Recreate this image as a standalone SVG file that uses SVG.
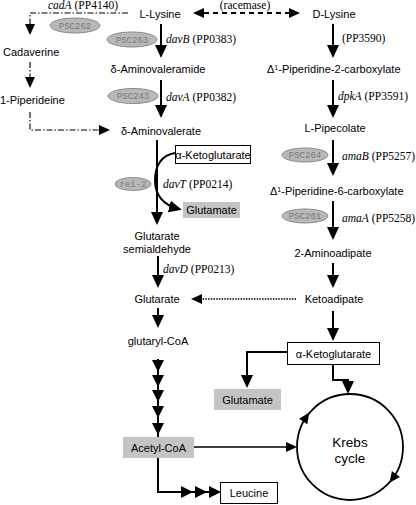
<svg xmlns="http://www.w3.org/2000/svg" xmlns:xlink="http://www.w3.org/1999/xlink" width="416" height="505" viewBox="0 0 416 505">
<style>
.l{font-family:"Liberation Sans",Arial,sans-serif;font-size:11px;fill:#000}
.k{font-family:"Liberation Sans",Arial,sans-serif;font-size:13.5px;fill:#000}
.g{font-family:"Liberation Serif","Times New Roman",serif;font-size:11.5px;fill:#000}
.gi{font-style:italic}
.psc{font-family:"Liberation Mono","Courier New",monospace;font-size:9px;fill:#7a7a7a}
.ell{fill:#b8b8b8;stroke:#8a8a8a;stroke-width:1}
.main{fill:none;stroke:#000;stroke-width:2}
.thin{fill:none;stroke:#000;stroke-width:1.6}
.dd{fill:none;stroke:#000;stroke-width:1.1;stroke-dasharray:6 2 1.5 2}
.dash{fill:none;stroke:#000;stroke-width:2;stroke-dasharray:5 4}
.dot{fill:none;stroke:#000;stroke-width:1.6;stroke-dasharray:1.5 1.2}
.box{fill:#fff;stroke:#000;stroke-width:1}
.gray{fill:#c4c4c4;stroke:none}
</style>
<defs>
<marker id="ah" markerUnits="userSpaceOnUse" markerWidth="13" markerHeight="12" viewBox="0 0 13 12" refX="10" refY="6" orient="auto"><path d="M0,0 L13,6 L0,12 z"/></marker>
<marker id="as" markerUnits="userSpaceOnUse" markerWidth="11" markerHeight="10" viewBox="0 0 11 10" refX="9" refY="5" orient="auto"><path d="M0,0 L11,5 L0,10 z"/></marker>
<marker id="ast" markerUnits="userSpaceOnUse" markerWidth="11" markerHeight="10" viewBox="0 0 11 10" refX="9" refY="5" orient="auto-start-reverse"><path d="M0,0 L11,5 L0,10 z"/></marker>
<path id="hd" d="M0,0 L-6,-12 L6,-12 z"/>
<path id="hr" d="M0,0 L-12,-6 L-12,6 z"/>
<path id="hc" d="M6,0 L-5,-5 L-5,5 z"/>
</defs>

<g id="connectors">
<path class="dash" d="M195,13 H298" marker-start="url(#ast)" marker-end="url(#ast)"/>
<path class="dd" d="M128,13 H30 V33" marker-end="url(#as)"/>
<path class="dd" d="M30,62 V86" marker-end="url(#as)"/>
<path class="dd" d="M30,112 V130 H108" marker-end="url(#as)"/>
<line class="main" x1="161" y1="24" x2="161" y2="55" marker-end="url(#ah)"/>
<line class="main" x1="161" y1="80" x2="161" y2="115" marker-end="url(#ah)"/>
<line class="main" x1="157" y1="140" x2="157" y2="222" marker-end="url(#ah)"/>
<path class="main" d="M175,153 C162,155 155,165 155,180 C155,195 163,205 179,209" marker-end="url(#ah)"/>
<line class="main" x1="158" y1="256" x2="158" y2="285" marker-end="url(#ah)"/>
<line class="main" x1="158" y1="308" x2="158" y2="325" marker-end="url(#ah)"/>
<line class="main" x1="158" y1="359" x2="158" y2="437"/>
<use xlink:href="#hd" x="158" y="372"/>
<use xlink:href="#hd" x="158" y="387"/>
<use xlink:href="#hd" x="158" y="402"/>
<use xlink:href="#hd" x="158" y="418"/>
<use xlink:href="#hd" x="158" y="435"/>
<path class="main" d="M158,458 V492 H219"/>
<use xlink:href="#hr" x="193" y="492"/>
<use xlink:href="#hr" x="207" y="492"/>
<use xlink:href="#hr" x="221" y="492"/>
<line class="main" x1="333" y1="24" x2="333" y2="55" marker-end="url(#ah)"/>
<line class="main" x1="333" y1="80" x2="333" y2="115" marker-end="url(#ah)"/>
<line class="main" x1="333" y1="140" x2="333" y2="173" marker-end="url(#ah)"/>
<line class="main" x1="333" y1="201" x2="333" y2="237" marker-end="url(#ah)"/>
<line class="main" x1="333" y1="263" x2="333" y2="285" marker-end="url(#ah)"/>
<line class="main" x1="333" y1="311" x2="333" y2="338" marker-end="url(#ah)"/>
<path class="dot" d="M296,299 H193" marker-end="url(#as)"/>
<path class="main" d="M287,352 H247 V385" marker-end="url(#ah)"/>
<path class="main" d="M333,364 V380 H348 V391" marker-end="url(#ah)"/>
<path class="thin" d="M194,447 H295" marker-end="url(#as)"/>
</g>

<g id="krebs">
<circle cx="350" cy="447" r="53" fill="none" stroke="#000" stroke-width="1.8"/>
<use xlink:href="#hc" transform="translate(306,417.4) rotate(304)"/>
<use xlink:href="#hc" transform="translate(393,478) rotate(126)"/>
<text class="k" x="350" y="447" text-anchor="middle">Krebs</text>
<text class="k" x="350" y="463" text-anchor="middle">cycle</text>
</g>

<g id="lysine"><text class="l" x="160" y="18" text-anchor="middle">L-Lysine</text></g>
<g id="dlysine"><text class="l" x="334" y="18" text-anchor="middle">D-Lysine</text></g>
<g id="racemase"><text class="g" x="245" y="9" text-anchor="middle" font-size="10">(racemase)</text></g>
<g id="cadA"><text class="g" x="48" y="9"><tspan class="gi">cadA</tspan> (PP4140)</text></g>
<g id="psc262"><ellipse class="ell" cx="75" cy="25.5" rx="25" ry="7.5"/><text class="psc" x="75" y="28.5" text-anchor="middle">PSC262</text></g>
<g id="cadaverine"><text class="l" x="3" y="56">Cadaverine</text></g>
<g id="piperideine"><text class="l" x="0" y="104">1-Piperideine</text></g>
<g id="psc263"><ellipse class="ell" cx="132" cy="39.5" rx="25" ry="7.5"/><text class="psc" x="132" y="42.5" text-anchor="middle">PSC263</text></g>
<g id="davB"><text class="g" x="166" y="43"><tspan class="gi">davB</tspan> (PP0383)</text></g>
<g id="aminovaleramide"><text class="l" x="158" y="73" text-anchor="middle">δ-Aminovaleramide</text></g>
<g id="psc243"><ellipse class="ell" cx="133" cy="96" rx="25" ry="7.5"/><text class="psc" x="133" y="99" text-anchor="middle">PSC243</text></g>
<g id="davA"><text class="g" x="166" y="101"><tspan class="gi">davA</tspan> (PP0382)</text></g>
<g id="aminovalerate"><text class="l" x="161" y="135" text-anchor="middle">δ-Aminovalerate</text></g>
<g id="akg1"><rect class="box" x="175.5" y="145.5" width="75" height="18"/><text class="l" x="213" y="158.5" text-anchor="middle" font-size="10.5">α-Ketoglutarate</text></g>
<g id="rei2"><ellipse class="ell" cx="133" cy="184" rx="18" ry="6.5"/><text class="psc" x="133" y="187" text-anchor="middle">rei-2</text></g>
<g id="davT"><text class="g" x="163" y="188"><tspan class="gi">davT</tspan> (PP0214)</text></g>
<g id="glutamate1"><rect class="gray" x="183" y="202" width="57" height="16"/><text class="l" x="211.5" y="214" text-anchor="middle">Glutamate</text></g>
<g id="gsa"><text class="l" x="157" y="240" text-anchor="middle">Glutarate</text><text class="l" x="157" y="253" text-anchor="middle">semialdehyde</text></g>
<g id="davD"><text class="g" x="163" y="273"><tspan class="gi">davD</tspan> (PP0213)</text></g>
<g id="glutarate"><text class="l" x="157" y="303" text-anchor="middle">Glutarate</text></g>
<g id="glutarylcoa"><text class="l" x="158" y="345" text-anchor="middle">glutaryl-CoA</text></g>
<g id="acetylcoa"><rect class="gray" x="123" y="437" width="71" height="21"/><text class="l" x="158.5" y="451.5" text-anchor="middle">Acetyl-CoA</text></g>
<g id="leucine"><rect class="box" x="220.5" y="482.5" width="57" height="21"/><text class="l" x="249" y="497" text-anchor="middle">Leucine</text></g>
<g id="pp3590"><text class="g" x="342" y="42">(PP3590)</text></g>
<g id="p2c"><text class="l" x="267" y="73">Δ<tspan font-size="7" dy="-3">1</tspan><tspan dy="3">-Piperidine-2-carboxylate</tspan></text></g>
<g id="dpkA"><text class="g" x="338" y="100"><tspan class="gi">dpkA</tspan> (PP3591)</text></g>
<g id="pipecolate"><text class="l" x="335" y="132" text-anchor="middle">L-Pipecolate</text></g>
<g id="psc264"><ellipse class="ell" cx="305" cy="155" rx="23" ry="7"/><text class="psc" x="305" y="158" text-anchor="middle">PSC264</text></g>
<g id="amaB"><text class="g" x="342" y="160"><tspan class="gi">amaB</tspan> (PP5257)</text></g>
<g id="p6c"><text class="l" x="270" y="195">Δ<tspan font-size="7" dy="-3">1</tspan><tspan dy="3">-Piperidine-6-carboxylate</tspan></text></g>
<g id="psc261"><ellipse class="ell" cx="305" cy="216" rx="23" ry="7"/><text class="psc" x="305" y="219" text-anchor="middle">PSC261</text></g>
<g id="amaA"><text class="g" x="342" y="222"><tspan class="gi">amaA</tspan> (PP5258)</text></g>
<g id="aminoadipate"><text class="l" x="333" y="257" text-anchor="middle">2-Aminoadipate</text></g>
<g id="ketoadipate"><text class="l" x="334" y="303" text-anchor="middle">Ketoadipate</text></g>
<g id="akg2"><rect class="box" x="287.5" y="342.5" width="92" height="22"/><text class="l" x="333.5" y="357.5" text-anchor="middle">α-Ketoglutarate</text></g>
<g id="glutamate2"><rect class="gray" x="214" y="389" width="67" height="21"/><text class="l" x="247.5" y="404" text-anchor="middle">Glutamate</text></g>
</svg>
